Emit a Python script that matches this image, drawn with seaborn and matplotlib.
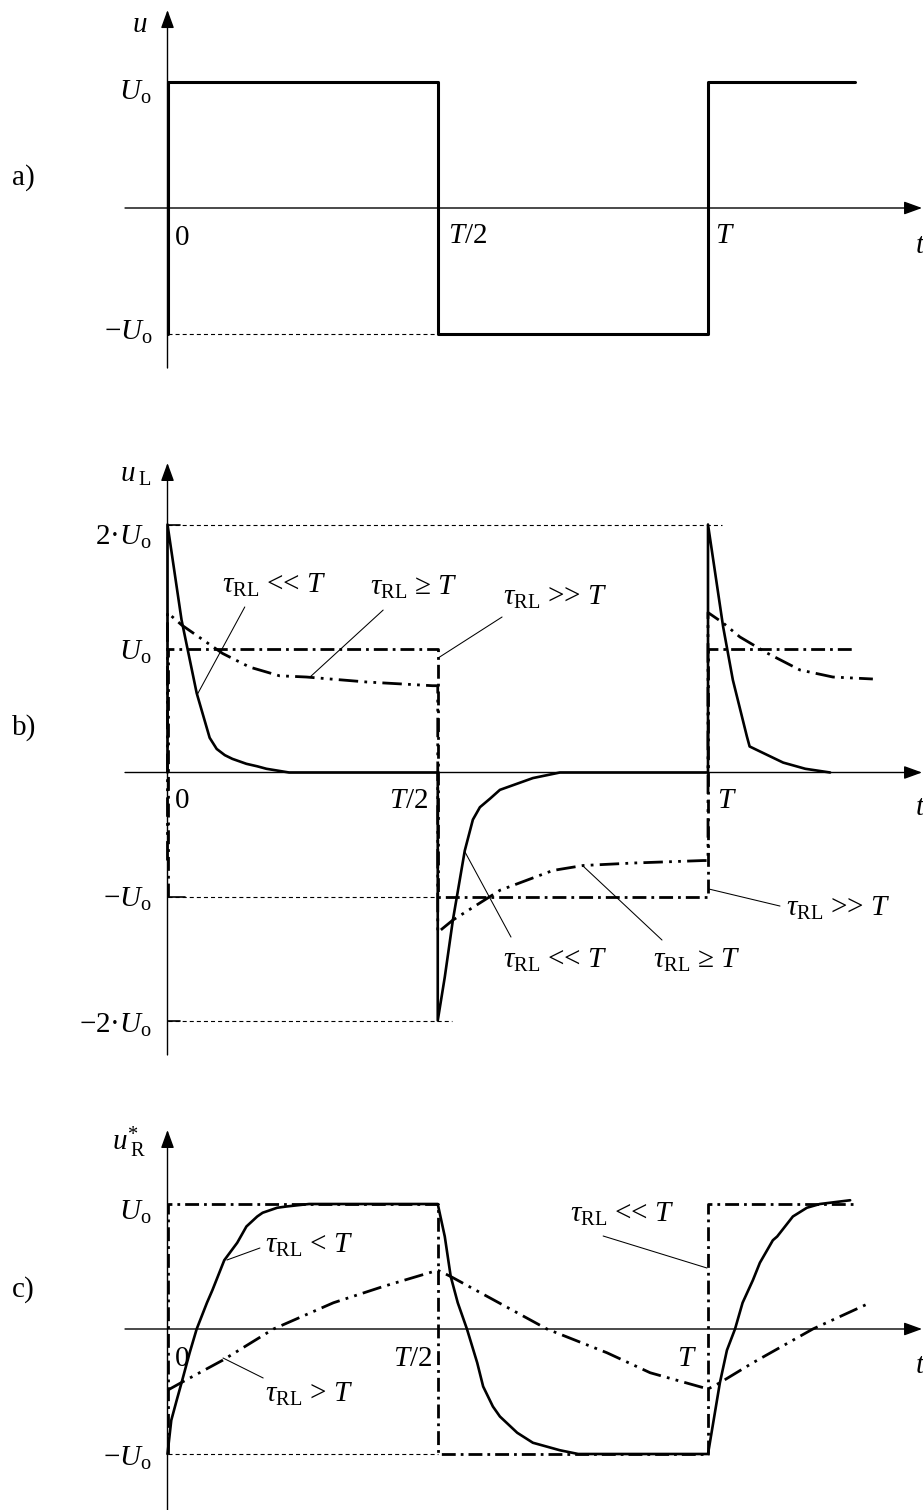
import matplotlib
matplotlib.use("Agg")
import matplotlib.pyplot as plt
import pandas as pd
import seaborn as sns

# ---------------------------------------------------------------------------
# Data: time in units of the period T, voltages in units of U_o
# ---------------------------------------------------------------------------
# a) rectangular source voltage u(t)
src_t = [0.0, 0.0, 0.5, 0.5, 1.0, 1.0, 1.272]
src_u = [-1.0, 1.0, 1.0, -1.0, -1.0, 1.0, 1.0]

# b) inductor voltage u_L(t)
#    tau_RL << T : sharp spikes of 2*U_o decaying to zero
fast_t = [0.0, 0.0, 0.026, 0.054, 0.078, 0.091, 0.106, 0.120, 0.146, 0.166, 0.183, 0.225,
          0.5, 0.5, 0.513, 0.528, 0.550, 0.565, 0.578, 0.597, 0.615, 0.676, 0.726,
          1.0, 1.0, 1.028, 1.046, 1.072, 1.077, 1.096, 1.139, 1.180, 1.226]
fast_uL = [0.0, 2.0, 1.23, 0.64, 0.28, 0.19, 0.14, 0.11, 0.07, 0.05, 0.03, 0.0,
           0.0, -2.0, -1.65, -1.19, -0.63, -0.38, -0.28, -0.21, -0.14, -0.045, 0.0,
           0.0, 2.0, 1.175, 0.746, 0.29, 0.21, 0.17, 0.08, 0.03, 0.0]
#    tau_RL >= T : slow decay, jumps of 2*U_o at every edge
slow_t = [0.0, 0.0, 0.026, 0.059, 0.102, 0.152, 0.207, 0.257, 0.368, 0.490, 0.5,
          0.5, 0.528, 0.615, 0.713, 0.769, 0.862, 0.991, 1.0,
          1.0, 1.028, 1.059, 1.109, 1.170, 1.231, 1.305]
slow_uL = [-0.71, 1.29, 1.19, 1.09, 0.96, 0.85, 0.78, 0.77, 0.73, 0.70, 0.70,
           -1.29, -1.19, -0.95, -0.79, -0.75, -0.73, -0.71, -0.71,
           1.29, 1.206, 1.093, 0.964, 0.827, 0.770, 0.754]
#    tau_RL >> T : u_L follows the source voltage
vslow_t = [0.0, 0.0, 0.5, 0.5, 1.0, 1.0, 1.272]
vslow_uL = [-1.0, 1.0, 1.0, -1.0, -1.0, 1.0, 1.0]

# c) resistor voltage u*_R(t)
#    tau_RL << T : square wave
sq_t = [0.0, 0.0, 0.5, 0.5, 1.0, 1.0, 1.276]
sq_uR = [-1.0, 1.0, 1.0, -1.0, -1.0, 1.0, 1.0]
#    tau_RL < T : exponential approach to +-U_o
mid_t = [0.0, 0.007, 0.017, 0.026, 0.041, 0.054, 0.073, 0.083, 0.105, 0.129, 0.146,
         0.166, 0.176, 0.203, 0.220, 0.262, 0.5,
         0.513, 0.524, 0.537, 0.554, 0.573, 0.584, 0.602, 0.615, 0.647, 0.676,
         0.726, 0.760, 1.0,
         1.022, 1.035, 1.050, 1.064, 1.083, 1.096, 1.120, 1.128, 1.157, 1.183,
         1.207, 1.263]
mid_uR = [-1.0, -0.73, -0.57, -0.43, -0.19, 0.0, 0.21, 0.31, 0.55, 0.69, 0.82,
          0.90, 0.93, 0.97, 0.98, 1.0, 1.0,
          0.74, 0.42, 0.21, 0.0, -0.27, -0.46, -0.62, -0.70, -0.83, -0.91,
          -0.97, -1.0, -1.0,
          -0.43, -0.17, 0.0, 0.21, 0.39, 0.53, 0.71, 0.74, 0.90, 0.97,
          1.0, 1.03]
#    tau_RL > T : nearly triangular wave
tri_t = [0.0, 0.025, 0.102, 0.196, 0.307, 0.399, 0.5,
         0.524, 0.702, 0.813, 0.893, 1.0,
         1.022, 1.083, 1.194, 1.300]
tri_uR = [-0.49, -0.43, -0.25, 0.0, 0.21, 0.34, 0.47,
          0.42, 0.0, -0.19, -0.35, -0.48,
          -0.43, -0.27, 0.0, 0.21]

# ---------------------------------------------------------------------------
# Style
# ---------------------------------------------------------------------------
sns.set_theme(style="white")
plt.rcParams["font.family"] = ["Liberation Serif", "DejaVu Serif"]
plt.rcParams["mathtext.fontset"] = "custom"
plt.rcParams["mathtext.rm"] = "Liberation Serif"
plt.rcParams["mathtext.it"] = "Liberation Serif:italic"
plt.rcParams["mathtext.bf"] = "Liberation Serif:bold"
plt.rcParams["lines.scale_dashes"] = False

FS = 21
SOLID = "-"
DASHDOT = (0, (10, 3.6, 2, 3.6))
DASHDOTDOT = (0, (14, 4.5, 2, 4.5, 2, 4.5))
THIN_DASH = (0, (2.9, 2.2))

W, H = 923, 1510
X0, XT = 167.5, 540.5  # pixel column of t = 0 and pixels per period

fig = plt.figure(figsize=(W / 100, H / 100), dpi=100)
fig.patch.set_facecolor("white")


def make_panel(top, bottom, zero, scale):
    ax = fig.add_axes([0, 1 - bottom / H, 1, (bottom - top) / H])
    ax.axis("off")
    lims = ((-X0 / XT, (W - X0) / XT), ((zero - bottom) / scale, (zero - top) / scale))
    return ax, lims


def trace(ax, t, v, style, lw):
    df = pd.DataFrame({"t": t, "v": v})
    sns.lineplot(data=df, x="t", y="v", ax=ax, sort=False, estimator=None,
                 color="black", lw=lw, linestyle=style, clip_on=False,
                 solid_joinstyle="round")


def axes_arrows(ax, ybot, ytop, xleft=-0.0786, xright=1.396):
    kw = dict(arrowstyle="-|>,head_length=0.55,head_width=0.2", color="black",
              lw=1.0, mutation_scale=20, shrinkA=0, shrinkB=0)
    ax.annotate("", xy=(xright, 0), xytext=(xleft, 0), arrowprops=kw)
    ax.annotate("", xy=(0, ytop), xytext=(0, ybot), arrowprops=kw)


def ref(ax, t0, t1, v):
    ax.plot([t0, t1], [v, v], color="black", lw=0.8, linestyle=THIN_DASH)


def pointer(ax, p, q):
    ax.plot([p[0], q[0]], [p[1], q[1]], color="black", lw=0.75)


def txt(ax, x, y, s, ha="left", va="baseline"):
    ax.text(x, y, s, fontsize=FS, ha=ha, va=va, color="black")


Uo = r"$U_{\mathrm{o}}$"
TAU = r"$\tau_{\mathrm{RL}}$"

# ---------------------------------------------------------------------------
# a) source voltage
# ---------------------------------------------------------------------------
axa, lima = make_panel(0, 400, 208, 126)
axes_arrows(axa, -1.27, 1.571)
ref(axa, 0, 0.5, -1)
trace(axa, src_t, src_u, SOLID, 2.2)
txt(axa, -0.051, 1.397, r"$u$", ha="center")
txt(axa, -0.029, 0.857, Uo, ha="right")
txt(axa, -0.027, -1.048, "\u2212" + Uo, ha="right")
txt(axa, 0.014, -0.294, "0")
txt(axa, 0.519, -0.278, r"$T$/2")
txt(axa, 1.013, -0.278, r"$T$")
txt(axa, 1.383, -0.357, r"$t$")
txt(axa, -0.288, 0.238, "a)", va="center")

# ---------------------------------------------------------------------------
# b) inductor voltage
# ---------------------------------------------------------------------------
axb, limb = make_panel(400, 1075, 772.5, 124)
axes_arrows(axb, -2.278, 2.496)
ref(axb, 0, 1.026, 2)
ref(axb, 0, 0.5, -1)
ref(axb, 0, 0.526, -2)
for lvl, ln in ((2, 0.024), (-1, 0.033), (-2, 0.024)):
    axb.plot([0, ln], [lvl, lvl], color="black", lw=1.2)
trace(axb, vslow_t, vslow_uL, DASHDOT, 2.0)
trace(axb, slow_t, slow_uL, DASHDOTDOT, 2.0)
trace(axb, fast_t, fast_uL, SOLID, 1.9)

txt(axb, -0.088, 2.343, r"$u_{\;\mathrm{L}}$")
txt(axb, -0.029, 1.835, "2\u00b7" + Uo, ha="right")
txt(axb, -0.029, 0.907, Uo, ha="right")
txt(axb, -0.029, -1.085, "\u2212" + Uo, ha="right")
txt(axb, -0.029, -2.101, "\u22122\u00b7" + Uo, ha="right")
txt(axb, 0.014, -0.286, "0")
txt(axb, 0.482, -0.286, r"$T$/2", ha="right")
txt(axb, 1.017, -0.286, r"$T$")
txt(axb, 1.383, -0.343, r"$t$")
txt(axb, -0.288, 0.359, "b)", va="center")

txt(axb, 0.101, 1.448, TAU + " << " + r"$T$")
txt(axb, 0.375, 1.431, TAU + " \u2265 " + r"$T$")
txt(axb, 0.621, 1.351, TAU + " >> " + r"$T$")
txt(axb, 0.621, -1.577, TAU + " << " + r"$T$")
txt(axb, 0.898, -1.577, TAU + " \u2265 " + r"$T$")
txt(axb, 1.144, -1.157, TAU + " >> " + r"$T$")
pointer(axb, (0.143, 1.335), (0.0546, 0.625))
pointer(axb, (0.399, 1.310), (0.2637, 0.770))
pointer(axb, (0.619, 1.254), (0.5005, 0.923))
pointer(axb, (0.5504, -0.641), (0.6355, -1.327))
pointer(axb, (0.7687, -0.754), (0.9149, -1.351))
pointer(axb, (1.0019, -0.940), (1.1332, -1.077))

# ---------------------------------------------------------------------------
# c) resistor voltage
# ---------------------------------------------------------------------------
axc, limc = make_panel(1075, 1510, 1329, 125)
axes_arrows(axc, -1.448, 1.592)
ref(axc, 0, 0.5, -1)
trace(axc, sq_t, sq_uR, DASHDOT, 2.0)
trace(axc, tri_t, tri_uR, DASHDOTDOT, 2.0)
trace(axc, mid_t, mid_uR, SOLID, 1.9)

txt(axc, -0.103, 1.432, r"$u^{\mathrm{*}}_{\;\mathrm{R}}$")
txt(axc, -0.029, 0.872, Uo, ha="right")
txt(axc, -0.029, -1.096, "\u2212" + Uo, ha="right")
txt(axc, 0.014, -0.296, "0")
txt(axc, 0.489, -0.296, r"$T$/2", ha="right")
txt(axc, 0.980, -0.296, r"$T$", ha="right")
txt(axc, 1.383, -0.352, r"$t$")
txt(axc, -0.288, 0.312, "c)", va="center")

txt(axc, 0.745, 0.856, TAU + " << " + r"$T$")
txt(axc, 0.180, 0.608, TAU + " < " + r"$T$")
txt(axc, 0.180, -0.584, TAU + " > " + r"$T$")
pointer(axc, (0.806, 0.744), (0.998, 0.488))
pointer(axc, (0.171, 0.648), (0.110, 0.552))
pointer(axc, (0.177, -0.392), (0.1027, -0.232))

for ax, (xl, yl) in ((axa, lima), (axb, limb), (axc, limc)):
    ax.set_xlim(*xl)
    ax.set_ylim(*yl)
    ax.set_xlabel("")
    ax.set_ylabel("")

fig.savefig("out.png", dpi=100, facecolor="white")
